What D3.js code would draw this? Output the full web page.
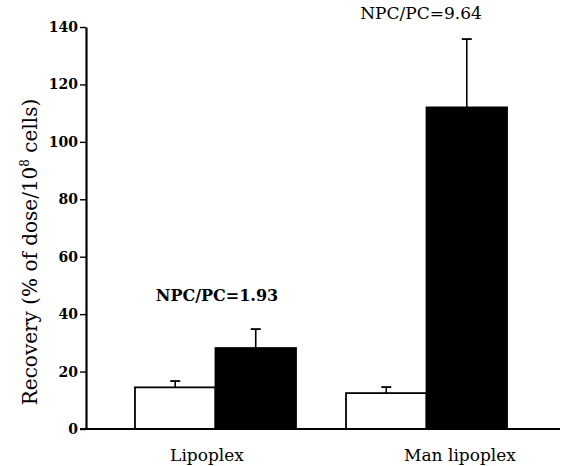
<!DOCTYPE html>
<html>
<head>
<meta charset="utf-8">
<script src="https://cdn.jsdelivr.net/npm/d3@7"></script>
<style>
  body { margin: 0; background: #fff; }
</style>
</head>
<body>
<svg id="chart"></svg>
<script>
// data
var categories = ['Lipoplex', 'Man lipoplex'];
var series = ['PC', 'NPC'];
var pcValues = [14.5, 12.5];
var pcErrors = [2.2, 2.1];
var npcValues = [28.2, 112];
var npcErrors = [6.6, 23.8];
var ratioLabels = ['NPC/PC=1.93', 'NPC/PC=9.64'];
var yTicks = [0, 20, 40, 60, 80, 100, 120, 140];

var serif = 'DejaVu Serif';

var svg = d3.select('#chart').attr('width', 564).attr('height', 466)
    .attr('font-family', serif);

var margin = {top: 27, left: 86, bottom: 37, right: 4};
var width = 564 - margin.left - margin.right,
    height = 466 - margin.top - margin.bottom;

var g = svg.append('g')
    .attr('transform', 'translate(' + margin.left + ',' + margin.top + ')');

var y = d3.scaleLinear().domain([0, 140]).range([height, 0]);

var x = d3.scaleBand().domain(categories)
    .range([0, 470]).paddingInner(0.237).paddingOuter(0.232);

var xs = d3.scaleBand().domain(series).range([0, x.bandwidth()]);

var flat = [];
categories.forEach(function(c, i) {
  flat.push({cat: c, s: 'PC', v: pcValues[i], e: pcErrors[i]});
  flat.push({cat: c, s: 'NPC', v: npcValues[i], e: npcErrors[i]});
});

function cx(d) { return x(d.cat) + xs(d.s) + xs.bandwidth() / 2; }

// error bars (upward only)
var eb = g.selectAll('.err').data(flat).enter().append('g').attr('class', 'err');
eb.append('line')
    .attr('x1', cx).attr('x2', cx)
    .attr('y1', function(d) { return y(d.v); })
    .attr('y2', function(d) { return y(d.v + d.e); })
    .style('stroke', '#000').style('stroke-width', 1.6);
eb.append('line')
    .attr('x1', function(d) { return cx(d) - 5; })
    .attr('x2', function(d) { return cx(d) + 5; })
    .attr('y1', function(d) { return y(d.v + d.e); })
    .attr('y2', function(d) { return y(d.v + d.e); })
    .style('stroke', '#000').style('stroke-width', 1.8);

g.selectAll('.bar').data(flat).enter().append('rect')
    .attr('class', 'bar')
    .attr('x', function(d) { return x(d.cat) + xs(d.s); })
    .attr('y', function(d) { return y(d.v); })
    .attr('width', xs.bandwidth())
    .attr('height', function(d) { return height - y(d.v); })
    .style('fill', function(d) { return d.s == 'PC' ? '#fff' : '#000'; })
    .style('stroke', '#000')
    .style('stroke-width', 1.8);

// y axis
var yAxis = g.append('g')
    .call(d3.axisLeft(y).tickValues(yTicks).tickSize(6).tickSizeOuter(0))
    .attr('font-family', serif)
    .attr('font-size', 14)
    .attr('font-weight', 'bold');
yAxis.select('.domain').style('stroke-width', 2.2);
yAxis.selectAll('.tick line').style('stroke-width', 1.4);
yAxis.selectAll('.tick text').attr('x', -8);

// baseline
g.append('line')
    .attr('x1', -6).attr('x2', 474)
    .attr('y1', height).attr('y2', height)
    .style('stroke', '#000').style('stroke-width', 1.8);

// category labels
var labelX = [207, 460];
svg.selectAll('.cat').data(categories).enter().append('text')
    .attr('x', function(d, i) { return labelX[i]; })
    .attr('y', 461)
    .attr('text-anchor', 'middle')
    .attr('font-size', 17)
    .text(function(d) { return d; });

// ratio annotations
var ratioPos = [[217, 301, 'bold', 16], [421, 19, 'normal', 17]];
svg.selectAll('.ratio').data(ratioLabels).enter().append('text')
    .attr('x', function(d, i) { return ratioPos[i][0]; })
    .attr('y', function(d, i) { return ratioPos[i][1]; })
    .attr('text-anchor', 'middle')
    .attr('font-size', function(d, i) { return ratioPos[i][3]; })
    .attr('font-weight', function(d, i) { return ratioPos[i][2]; })
    .text(function(d) { return d; });

// y title
var yt = svg.append('text')
    .attr('transform', 'translate(37,252) rotate(-90)')
    .attr('text-anchor', 'middle')
    .attr('font-size', 20);
yt.append('tspan').text('Recovery (% of dose/10');
yt.append('tspan').attr('dy', -8).attr('font-size', 12).text('8');
yt.append('tspan').attr('dy', 8).text(' cells)');
</script>
</body>
</html>
